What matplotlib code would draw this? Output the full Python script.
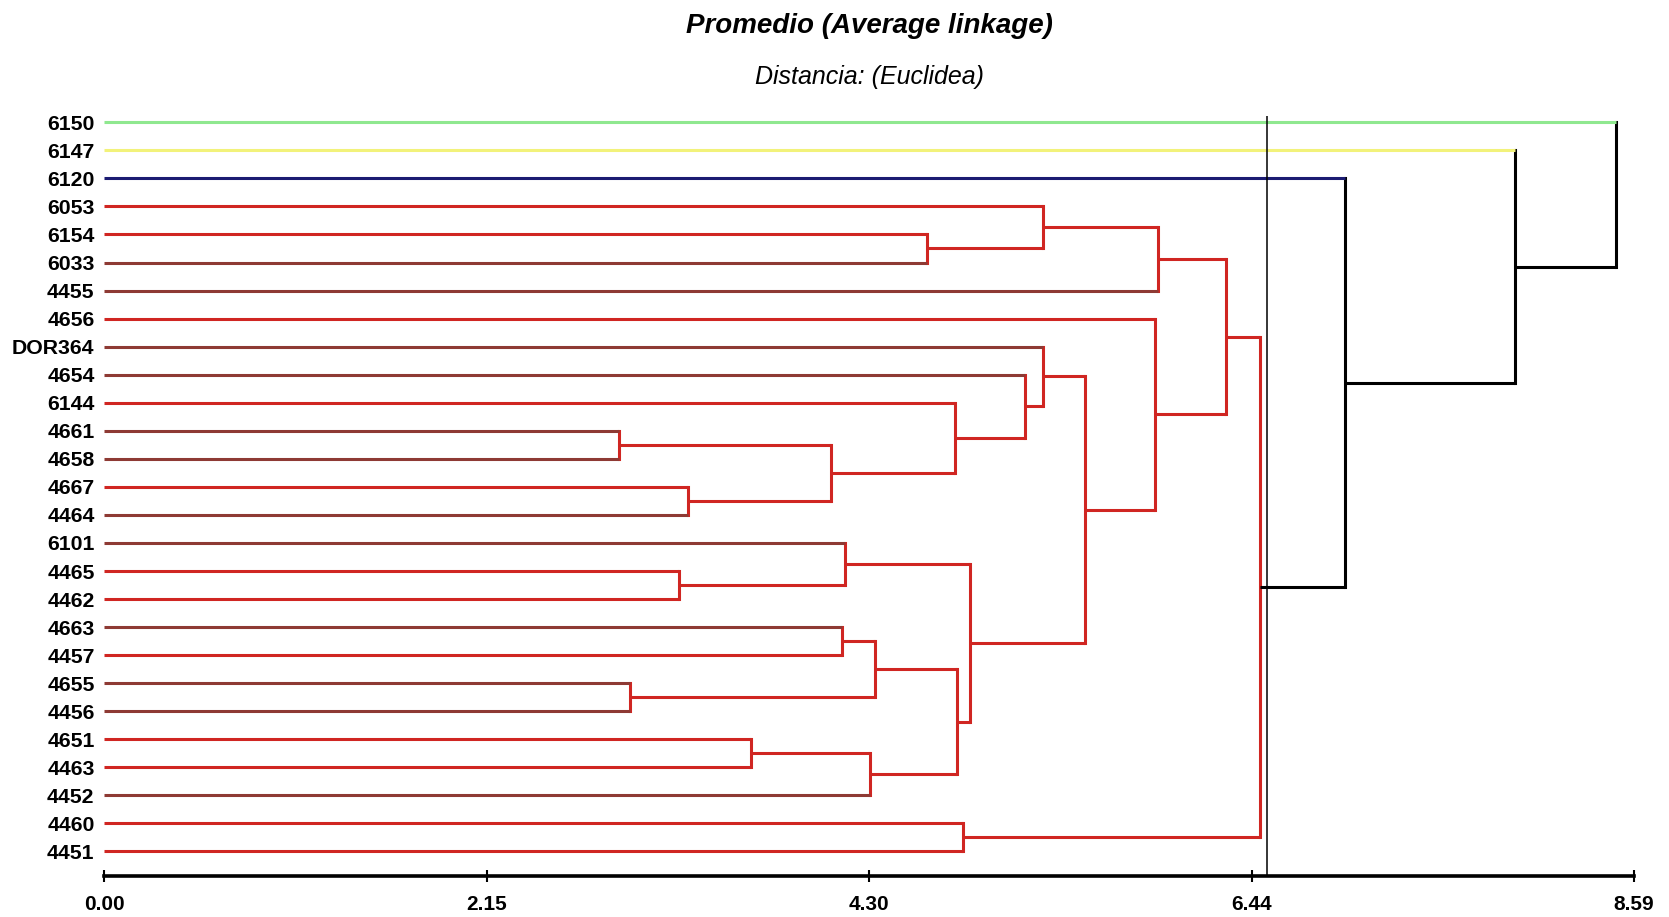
import numpy as np
import matplotlib
matplotlib.use("Agg")
import matplotlib.pyplot as plt

# leaves from top to bottom
leaf_labels = ["6150", "6147", "6120", "6053", "6154", "6033", "4455", "4656",
               "DOR364", "4654", "6144", "4661", "4658", "4667", "4464", "6101",
               "4465", "4462", "4663", "4457", "4655", "4456", "4651", "4463",
               "4452", "4460", "4451"]

# merges: node 27, 28, ... (left child, right child, distance)
merge_left = [11, 20, 16, 13, 22, 27, 18, 15, 31, 33, 4, 10, 36, 25, 34,
              9, 8, 3, 43, 7, 44, 47, 48, 2, 1, 0]
merge_right = [12, 21, 17, 14, 23, 30, 19, 29, 24, 28, 5, 32, 35, 26, 39,
               38, 42, 37, 41, 45, 6, 46, 40, 49, 50, 51]
merge_height = [2.89, 2.95, 3.23, 3.28, 3.63, 4.08, 4.14, 4.16, 4.30, 4.33,
                4.62, 4.78, 4.79, 4.82, 4.86, 5.17, 5.27, 5.27, 5.51, 5.90,
                5.92, 6.30, 6.49, 6.97, 7.92, 8.49]

cut_height = 6.53
x_max = 8.59
tick_labels = ["0.00", "2.15", "4.30", "6.44", "8.59"]

cluster_colors = ["#8fe88f", "#f2f27a", "#1b1b72", "#d02622"]
dark_red = "#8e3a34"
# leaves that render in the darker red shade
dark_leaves = ["6033", "4455", "DOR364", "4654", "4661", "4658", "4464", "6101",
               "4663", "4655", "4456", "4452"]

n = len(leaf_labels)
ypos = {i: float(i) for i in range(n)}
height = {i: 0.0 for i in range(n)}
children = {}
for k, (a, b, h) in enumerate(zip(merge_left, merge_right, merge_height)):
    node = n + k
    children[node] = (a, b)
    height[node] = h
    ypos[node] = (ypos[a] + ypos[b]) / 2.0
root = n + len(merge_height) - 1


def leaves_of(node):
    if node < n:
        return [node]
    a, b = children[node]
    return leaves_of(a) + leaves_of(b)


# clusters below the cut line get a colour, in order of appearance
node_color = {}
order = []


def assign(node):
    if height[node] < cut_height or node < n:
        cid = len(order)
        order.append(node)
        stack = [node]
        while stack:
            m = stack.pop()
            node_color[m] = cluster_colors[cid]
            if m >= n:
                stack.extend(children[m])
    else:
        node_color[node] = "black"
        for c in children[node]:
            assign(c)


assign(root)

fig = plt.figure(figsize=(16.69, 9.17), dpi=100)
ax = fig.add_axes([0.0625, 0.0447, 0.9165, 0.829])

lw = 2.2
for node, (a, b) in children.items():
    h = height[node]
    col = node_color[node]
    ax.plot([h, h], [ypos[a], ypos[b]], color=col, lw=lw, solid_capstyle="projecting", zorder=2)
    for c in (a, b):
        if c < n:
            ccol = node_color[c]
            if leaf_labels[c] in dark_leaves:
                ccol = dark_red
        else:
            ccol = col
        ax.plot([height[c], h], [ypos[c], ypos[c]], color=ccol, lw=lw,
                solid_capstyle="butt", zorder=2)

ax.axvline(cut_height, color="black", lw=1.1, zorder=3)

ax.set_xlim(0, x_max)
ax.set_ylim(n - 1 + 0.874, -0.23)
ax.set_yticks(range(n))
ax.set_yticklabels(leaf_labels, fontsize=15.3, fontweight="bold", family="Liberation Sans")
ax.tick_params(axis="y", length=0, pad=7)
ax.set_xticks(np.linspace(0, x_max, len(tick_labels)))
ax.set_xticklabels(tick_labels, fontsize=15, fontweight="bold", family="Liberation Sans")
ax.tick_params(axis="x", direction="inout", length=8, width=1.5, pad=10)

for side in ["top", "right", "left"]:
    ax.spines[side].set_visible(False)
ax.spines["bottom"].set_linewidth(2.6)

fig.text(0.521, 0.972, "Promedio (Average linkage)", ha="center", va="center",
         fontsize=20, fontweight="bold", style="italic", family="Liberation Sans")
fig.text(0.521, 0.916, "Distancia: (Euclidea)", ha="center", va="center",
         fontsize=18, style="italic", family="Liberation Sans")

plt.savefig("out.png", dpi=100, facecolor="white")
